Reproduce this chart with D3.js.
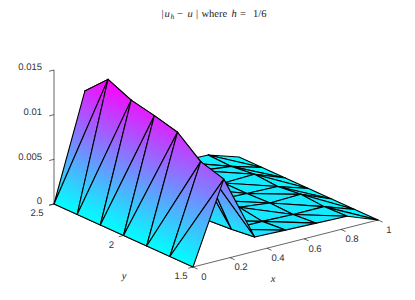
<!DOCTYPE html>
<html>
<head>
<meta charset="utf-8">
<script src="https://d3js.org/d3.v7.min.js"></script>
<style>
  html, body { margin: 0; padding: 0; background: #fff; }
  svg { display: block; }
  text { font-family: "Liberation Sans", sans-serif; font-size: 9.5px; fill: #333; text-rendering: geometricPrecision; }
  .math { font-family: "Liberation Serif", serif; font-size: 10.5px; fill: #222; }
</style>
</head>
<body>
<div id="chart"></div>
<script>
// grid nodes of the mesh
var xNodes = [0, 1/6, 2/6, 3/6, 4/6, 5/6, 1];
var yNodes = [2.5, 2.5 - 1/6, 2.5 - 2/6, 2, 2.5 - 4/6, 2.5 - 5/6, 1.5];

// |u_h - u| at each node, one array per x node, in y order
var zX0 = [0, 0, 0, 0, 0, 0, 0];
var zX1 = [0.01176, 0.01425, 0.0131, 0.01254, 0.01186, 0.00974, 0.00896];
var zX2 = [0.0012, 0.0014, 0.0013, 0.0014, 0.0011, 0.0013, 0.0016];
var zX3 = [0.0013, 0.0012, 0.0015, 0.0013, 0.0017, 0.0013, 0.0015];
var zX4 = [0.0012, 0.0014, 0.0012, 0.0012, 0.0013, 0.0012, 0.0014];
var zX5 = [0.0011, 0.0010, 0.0013, 0.0011, 0.0014, 0.0012, 0.0013];
var zX6 = [0, 0, 0, 0, 0, 0, 0];
var zRows = [zX0, zX1, zX2, zX3, zX4, zX5, zX6];

var xTicks = [0, 0.2, 0.4, 0.6, 0.8, 1];
var yTicks = [1.5, 2, 2.5];
var zTicks = [0, 0.005, 0.01, 0.015];

var width = 415, height = 300;

// oblique view: each data axis adds its own screen offset
var xToPx = d3.scaleLinear().domain([0, 1]).range([0, 185]);
var xToPy = d3.scaleLinear().domain([0, 1]).range([0, -47]);
var yToPx = d3.scaleLinear().domain([2.5, 1.5]).range([0, 139]);
var yToPy = d3.scaleLinear().domain([2.5, 1.5]).range([0, 63]);
var zToPy = d3.scaleLinear().domain([0, 0.015]).range([0, -134]);
var originX = 54, originY = 204;

var color = d3.scaleLinear().domain([0, 0.01425]).range(["#00ffff", "#ff00ff"]);

var project = function (x, y, z) {
  return [originX + xToPx(x) + yToPx(y), originY + xToPy(x) + yToPy(y) + zToPy(z)];
};

var svg = d3.select("#chart").append("svg")
  .attr("width", width)
  .attr("height", height);
var defs = svg.append("defs");

var node = function (i, j) {
  var z = zRows[i][j];
  var p = project(xNodes[i], yNodes[j], z);
  return { p: p, z: z };
};

// far cells first, so the nearer ones paint over them
var triangles = [];
d3.range(xNodes.length - 2, -1, -1).forEach(function (i) {
  d3.range(0, yNodes.length - 1).forEach(function (j) {
    triangles.push([node(i, j), node(i + 1, j), node(i + 1, j + 1)]);
    triangles.push([node(i, j), node(i + 1, j + 1), node(i, j + 1)]);
  });
});

// z is linear on a triangle, so a linear gradient along its slope is exact
var fillFor = function (t, k) {
  var a = t[0], b = t[1], c = t[2];
  var ux = b.p[0] - a.p[0], uy = b.p[1] - a.p[1], uz = b.z - a.z;
  var vx = c.p[0] - a.p[0], vy = c.p[1] - a.p[1], vz = c.z - a.z;
  var det = ux * vy - vx * uy;
  var gx = (uz * vy - vz * uy) / det;
  var gy = (ux * vz - vx * uz) / det;
  var g2 = gx * gx + gy * gy;
  if (g2 === 0) return color(a.z);
  var zMin = d3.min(t, function (d) { return d.z; });
  var zMax = d3.max(t, function (d) { return d.z; });
  var x1 = a.p[0] + gx * (zMin - a.z) / g2, y1 = a.p[1] + gy * (zMin - a.z) / g2;
  var x2 = a.p[0] + gx * (zMax - a.z) / g2, y2 = a.p[1] + gy * (zMax - a.z) / g2;
  var grad = defs.append("linearGradient")
    .attr("id", "tri" + k)
    .attr("gradientUnits", "userSpaceOnUse")
    .attr("x1", x1).attr("y1", y1)
    .attr("x2", x2).attr("y2", y2);
  grad.append("stop").attr("offset", 0).attr("stop-color", color(zMin));
  grad.append("stop").attr("offset", 1).attr("stop-color", color(zMax));
  return "url(#tri" + k + ")";
};

// axes
var axes = svg.append("g").attr("fill", "none").attr("stroke", "#000").attr("stroke-width", 0.6);
var line = d3.line();

axes.append("path").attr("d", line([project(0, 2.5, 0), project(0, 2.5, 0.015)]));
axes.append("path").attr("d", line([project(0, 1.5, 0), project(1, 1.5, 0)]));
axes.append("path").attr("d", line([project(0, 2.5, 0), project(0, 1.5, 0)]));

var tickX = -5 / 191, tickY = 5 / 152;
zTicks.forEach(function (z) {
  axes.append("path").attr("d", line([project(0, 2.5, z), project(tickX, 2.5, z)]));
});
yTicks.forEach(function (y) {
  axes.append("path").attr("d", line([project(0, y, 0), project(tickX, y, 0)]));
});
xTicks.forEach(function (x) {
  axes.append("path").attr("d", line([project(x, 1.5, 0), project(x, 1.5 - tickY, 0)]));
});

// surface
svg.append("g").selectAll("path")
  .data(triangles)
  .enter().append("path")
  .attr("d", function (t) { return line(t.map(function (d) { return d.p; })) + "Z"; })
  .attr("fill", function (t, k) { return fillFor(t, k); })
  .attr("stroke", "#000")
  .attr("stroke-width", 1.1)
  .attr("stroke-linejoin", "round");

// tick labels
svg.append("g").selectAll("text")
  .data(zTicks)
  .enter().append("text")
  .attr("x", 42)
  .attr("y", function (z) { return project(0, 2.5, z)[1] - 3; })
  .attr("dy", "0.35em")
  .attr("text-anchor", "end")
  .text(function (z) { return String(z); });

svg.append("g").selectAll("text")
  .data(yTicks)
  .enter().append("text")
  .attr("x", function (y) { return y === 2.5 ? 37 : project(0, y, 0)[0] - 12; })
  .attr("y", function (y) { return project(0, y, 0)[1] + 9; })
  .attr("dy", "0.35em")
  .attr("text-anchor", "middle")
  .text(function (y) { return String(y); });

svg.append("g").selectAll("text")
  .data(xTicks)
  .enter().append("text")
  .attr("x", function (x) { return project(x, 1.5, 0)[0] + 11; })
  .attr("y", function (x) { return project(x, 1.5, 0)[1] + 9.5; })
  .attr("dy", "0.35em")
  .attr("text-anchor", "middle")
  .text(function (x) { return String(x); });

// axis names
svg.append("text").attr("class", "math").attr("x", 124).attr("y", 279)
  .attr("text-anchor", "middle").attr("font-style", "italic").text("y");
svg.append("text").attr("class", "math").attr("x", 273).attr("y", 282)
  .attr("text-anchor", "middle").attr("font-style", "italic").text("x");

// title, set piece by piece for the wider math spacing
var title = svg.append("text").attr("class", "math").attr("y", 17);
title.append("tspan").attr("x", 161.5).text("|");
title.append("tspan").attr("x", 164.5).attr("font-style", "italic").text("u");
title.append("tspan").attr("x", 170.5).attr("font-style", "italic").attr("font-size", "7.5px").attr("dy", 2).text("h");
title.append("tspan").attr("x", 177).attr("dy", -2).text("−");
title.append("tspan").attr("x", 187.5).attr("font-style", "italic").text("u");
title.append("tspan").attr("x", 196).text("|");
title.append("tspan").attr("x", 201.5).text("where");
title.append("tspan").attr("x", 231.5).attr("font-style", "italic").text("h");
title.append("tspan").attr("x", 240).text("=");
title.append("tspan").attr("x", 253).text("1/6");
</script>
</body>
</html>
